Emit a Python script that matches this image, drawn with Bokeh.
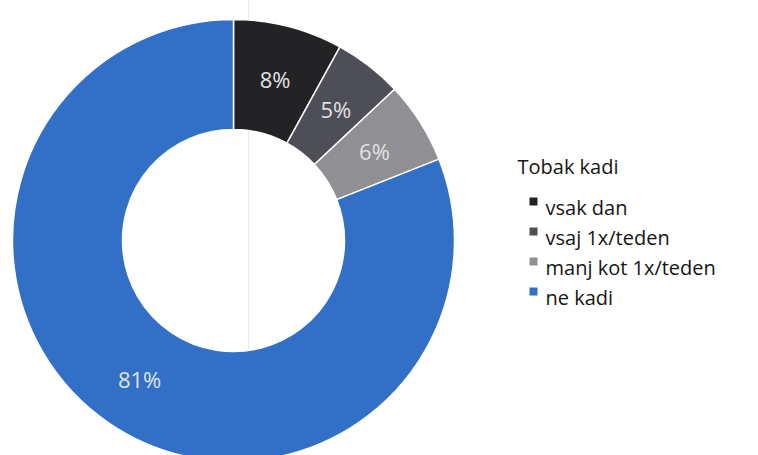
import numpy as np
from bokeh.plotting import figure
from bokeh.models import ColumnDataSource, Range1d
from bokeh.core.properties import value
from bokeh.embed import file_html
from bokeh.resources import INLINE

# ---- data ----
categories = ["vsak dan", "vsaj 1x/teden", "manj kot 1x/teden", "ne kadi"]
shares = [8, 5, 6, 81]
pct_labels = ["8%", "5%", "6%", "81%"]
colors = ["#232326", "#4e4e56", "#8f8f94", "#3170c6"]
legend_title = "Tobak kadi"

# ---- layout ----
W, H = 758, 455
cx, cy = 233, H - 240
r_out, r_in = 221, 111
r_lab = 167
FONT = "Open Sans"

frac = np.array(shares, dtype=float) / sum(shares)
cum = np.concatenate([[0.0], np.cumsum(frac)])
start = np.pi / 2 - 2 * np.pi * cum[:-1]
end = np.pi / 2 - 2 * np.pi * cum[1:]
mid = (start + end) / 2

src = ColumnDataSource(dict(
    cat=categories, start=start, end=end, color=colors, lab=pct_labels,
    lx=cx + r_lab * np.cos(mid), ly=cy + r_lab * np.sin(mid),
))

p = figure(width=W, height=H, x_range=Range1d(0, W), y_range=Range1d(0, H),
           x_axis_type=None, y_axis_type=None, toolbar_location=None,
           output_backend="svg", min_border=0)
p.grid.visible = False
p.outline_line_color = None
p.background_fill_color = "white"

# faint scan line
p.segment(x0=[248], y0=[0], x1=[248], y1=[H], line_color="#dbeaf6", line_width=1)

p.annular_wedge(x=cx, y=cy, inner_radius=r_in, outer_radius=r_out,
                start_angle="start", end_angle="end", direction="clock",
                fill_color="color", line_color="white", line_width=1.5, source=src)

p.text(x="lx", y="ly", text="lab", source=src, text_color="#e2e2e2",
       text_font=value(FONT), text_font_size="22px",
       text_align="center", text_baseline="middle")

# legend
n = len(categories)
row0, step = H - 207, 30
leg = ColumnDataSource(dict(
    cat=categories, color=colors,
    sx=[533] * n, sy=[row0 + 6 - i * step for i in range(n)],
    tx=[545] * n, ty=[row0 - i * step for i in range(n)],
))
p.scatter(x="sx", y="sy", marker="square", size=8, fill_color="color",
          line_color=None, source=leg)
p.text(x="tx", y="ty", text="cat", source=leg, text_color="#151515",
       text_font=value(FONT), text_font_size="20px",
       text_align="left", text_baseline="alphabetic")
p.text(x=[517], y=[H - 166], text=[legend_title], text_color="#151515",
       text_font=value(FONT), text_font_size="20px",
       text_align="left", text_baseline="alphabetic")

open("out.html", "w").write(file_html(p, INLINE))
